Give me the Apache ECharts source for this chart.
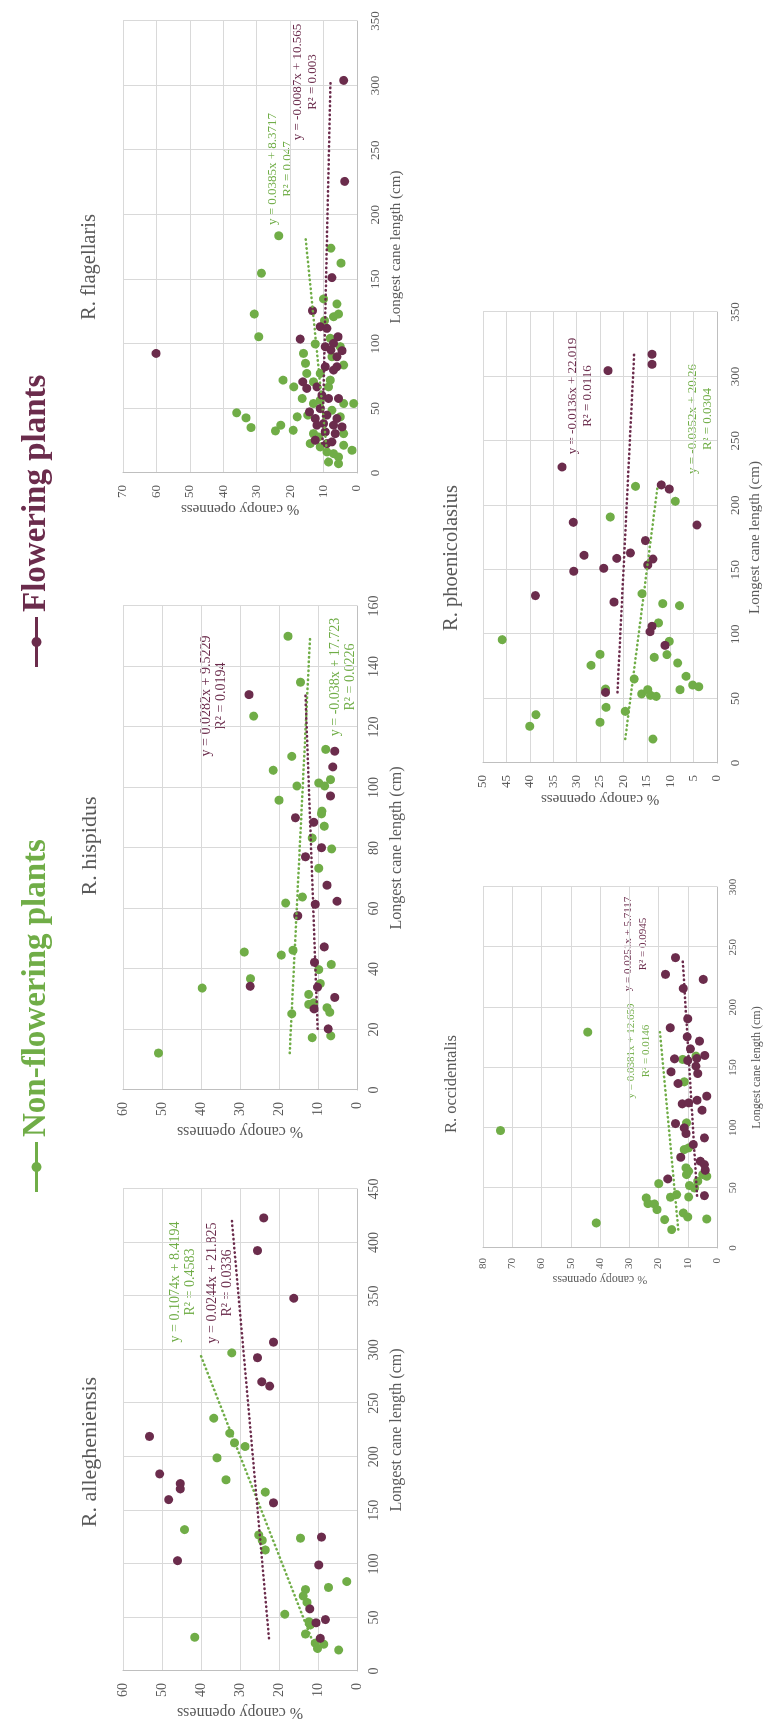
<!DOCTYPE html>
<html>
<head>
<meta charset="utf-8">
<script src="https://cdn.jsdelivr.net/npm/echarts@6/dist/echarts.min.js"></script>
<style>
  html, body { margin: 0; padding: 0; background: #fff; width: 768px; height: 1722px; overflow: hidden; }
  /* the figure is laid out landscape and turned a quarter turn counter-clockwise */
  #chart { position: absolute; left: 0; top: 0; width: 1722px; height: 768px;
           transform-origin: 0 0; transform: translate(0, 1722px) rotate(-90deg); }
</style>
</head>
<body>
<div id="chart"></div>
<script>
// [longest cane length (cm), % canopy openness]
const allegheniensisNon = [[31.5,41.6],[132,44.2],[236,36.7],[199,35.9],[178.5,33.6],[222,32.6],[213,31.4],[209.6,28.7],[297,32.1],[167,23.5],[127,25.2],[122,24.3],[113,23.5],[124,14.5],[53,18.5],[76,13.2],[70,13.8],[64,12.8],[46,12.3],[43,12.0],[34.5,13.2],[21,10.1],[25,8.5],[78,7.3],[83.5,2.6],[19.6,4.7],[26,10.7]];
const allegheniensisFl = [[219,53.2],[184,50.6],[160,48.3],[175,45.3],[170,45.3],[103,46.0],[157,21.4],[292.5,25.5],[270,24.4],[266,22.4],[307,21.4],[58,12.1],[45,10.5],[48,8.1],[30.5,9.4],[99,9.8],[125,9.1],[423,23.9],[392.5,25.5],[348,16.2]];

const hispidusNon = [[150,17.7],[134.8,14.5],[123.6,26.5],[112.6,8.0],[110.3,16.7],[105.7,21.5],[100.5,15.4],[101.5,9.8],[102.6,6.8],[100.5,8.3],[95.8,20.0],[92.2,9.0],[91.3,9.1],[87.2,8.4],[83.3,11.5],[79.7,6.5],[73.3,9.8],[63.8,14.0],[61.8,18.3],[46.2,16.4],[44.6,19.4],[45.6,28.9],[36.8,27.3],[33.7,39.7],[41.5,6.6],[39.8,9.8],[35.2,9.4],[31.6,12.4],[28.3,12.4],[28.8,11.1],[27.2,7.7],[25.7,7.0],[25.2,16.7],[17.3,11.5],[17.9,6.7],[12.2,50.9]];
const hispidusFl = [[130.7,27.7],[112,5.7],[106.8,6.2],[97.2,6.8],[90,15.8],[88.5,11.1],[80.1,9.1],[77.1,13.2],[67.7,7.7],[62.4,5.1],[61.4,10.7],[57.6,15.2],[47.3,8.4],[42.2,10.9],[34,10.1],[30.6,5.7],[26.8,11.0],[20.2,7.4],[34.3,27.4]];

const flagellarisNon = [[183.7,23.4],[154.7,28.6],[174.1,7.8],[162.5,4.8],[130.9,6.0],[123.1,5.5],[123.1,30.7],[105.5,29.4],[134.8,10.0],[118,9.7],[99.9,12.5],[92.6,16.0],[84.9,15.4],[77.1,15.0],[70.6,13.0],[71.9,22.1],[66.7,18.9],[57.7,16.4],[43.5,17.9],[33.1,19.1],[32.6,24.4],[37,22.8],[35.2,31.7],[42.7,33.2],[46.6,36.0],[44.8,14.7],[66.7,8.5],[90,7.5],[83.6,4.0],[53.8,4.0],[53.8,1.0],[43.5,5.0],[30.5,4.0],[21.5,4.0],[12.4,5.5],[7.2,5.5],[8.5,8.5],[20.2,11.0],[30.5,13.0],[22.8,14.0],[15,7.0],[16.3,9.0],[27.9,11.5],[48.6,7.5],[56.4,11.0],[71.9,8.0],[77.1,11.0],[53.8,13.0],[97.8,5.0],[104.3,8.0],[121,7.0],[17.6,1.5]];
const flagellarisFl = [[92.6,60.1],[304,4.0],[225.8,3.7],[151.3,7.5],[125.7,13.3],[103.7,17.0],[113.3,11.0],[112,9.0],[105.5,5.7],[100.4,7.0],[97.8,9.5],[95.2,7.8],[94.7,4.5],[90,6.0],[82.3,9.5],[82.3,6.0],[79.7,7.0],[70.6,16.2],[65.5,15.0],[66.7,12.0],[60.3,10.5],[57.7,8.5],[57.7,5.5],[47.3,14.2],[49.9,11.0],[44.8,9.0],[42.2,12.5],[42.2,6.0],[38.3,10.0],[37,12.0],[37,7.0],[35.7,4.5],[31.8,9.5],[30.5,6.5],[24.1,7.5],[25.4,12.5],[22.8,9.0]];

const occidentalisNon = [[97.6,74.0],[179.4,44.2],[20.8,41.3],[41.6,24.2],[36.9,23.6],[36.6,21.4],[31.9,20.5],[53.5,19.9],[23.6,17.9],[15.3,15.5],[42.2,15.9],[44.4,13.8],[29.1,11.5],[25.8,10.0],[24.1,3.5],[42.4,9.7],[51.9,9.4],[49.9,7.7],[55.5,6.6],[61,10.4],[66.6,10.6],[63.8,9.7],[61,4.9],[59.6,3.5],[81.8,11.2],[83.2,9.7],[104,10.4],[138.1,11.2],[156.7,11.7],[159.5,7.2]];
const occidentalisFl = [[241.3,14.2],[227.4,17.6],[223.2,4.7],[215.7,11.5],[190.5,10.0],[183,16.0],[175.5,10.2],[171.9,6.0],[165.5,9.1],[157.2,14.5],[155.8,10.0],[160,4.2],[157.5,6.9],[151.1,7.2],[146.4,15.7],[145,6.6],[136.7,13.3],[119.8,11.9],[120.6,9.7],[122.8,6.8],[126.2,3.5],[114.5,5.1],[103.4,14.2],[99.8,11.2],[95.1,10.6],[91.5,4.3],[86,8.1],[75.4,12.4],[72.1,5.7],[69.3,4.3],[57.4,16.8],[64.6,4.0],[43.5,4.3]];

const phoenicolasiusNon = [[95.7,45.9],[28.5,40.0],[37.5,38.7],[31.6,25.0],[75.8,26.9],[84.3,25.0],[57.4,23.8],[43.2,23.7],[190.9,22.8],[214.7,17.4],[203.1,8.9],[131.4,16.0],[123.7,11.6],[122.1,8.0],[108.7,12.5],[65.2,17.7],[40.1,19.6],[53.6,16.1],[56.9,14.8],[52.5,14.2],[51.7,13.0],[82,13.4],[94.4,10.2],[84.1,10.7],[77.6,8.4],[67.3,6.6],[56.9,7.9],[60.5,5.2],[59.2,3.9],[18.6,13.7]];
const phoenicolasiusFl = [[317.2,13.9],[309.4,13.9],[304.5,23.3],[229.7,33.1],[215.8,11.9],[212.6,10.2],[184.7,4.3],[186.8,30.7],[172.6,15.3],[161.2,28.4],[163,18.5],[158.8,21.4],[158.3,13.7],[153.7,14.8],[151.1,24.2],[148.8,30.6],[129.9,38.8],[124.9,22.0],[106.1,13.9],[101.9,14.3],[91.3,11.1],[54.8,23.8]];

// linear trendlines: [slope, intercept, R²]
const allegheniensisFitNon = [0.1074, 8.4194, 0.4583];
const allegheniensisFitFl = [0.0244, 21.825, 0.0336];
const hispidusFitNon = [-0.038, 17.723, 0.0226];
const hispidusFitFl = [0.0282, 9.5229, 0.0194];
const flagellarisFitNon = [0.0385, 8.3717, 0.047];
const flagellarisFitFl = [-0.0087, 10.565, 0.003];
const occidentalisFitNon = [0.0381, 12.659, 0.0146];
const occidentalisFitFl = [0.0251, 5.7117, 0.0945];
const phoenicolasiusFitNon = [-0.0352, 20.26, 0.0304];
const phoenicolasiusFitFl = [-0.0136, 22.019, 0.0116];

// axis ranges: [max cane length, step, max openness, step]
const allegheniensisAxes = [450, 50, 60, 10];
const hispidusAxes = [160, 20, 60, 10];
const flagellarisAxes = [350, 50, 70, 10];
const occidentalisAxes = [300, 50, 80, 10];
const phoenicolasiusAxes = [350, 50, 50, 5];

const seriesNames = ['Non-flowering plants', 'Flowering plants'];
const xTitle = 'Longest cane length (cm)';
const yTitle = '% canopy openness';

const GREEN = '#70AD47';
const PURPLE = '#6B2C4C';
const INK = '#595959';
const SERIF = '"Liberation Serif", "Times New Roman", serif';

const panels = [
  { title: 'R. allegheniensis', non: allegheniensisNon, fl: allegheniensisFl, fitNon: allegheniensisFitNon, fitFl: allegheniensisFitFl, axes: allegheniensisAxes,
    grid: { left: 51, top: 123, width: 482, height: 234 }, size: { title: 22, name: 16, tick: 14, eq: 14 },
    titleAt: [270, 90], eqNonAt: [440, 175], eqFlAt: [439, 212], gapX: 32, gapY: 33, marginX: 10, marginY: 12 },
  { title: 'R. hispidus', non: hispidusNon, fl: hispidusFl, fitNon: hispidusFitNon, fitFl: hispidusFitFl, axes: hispidusAxes,
    grid: { left: 632, top: 123, width: 484, height: 234 }, size: { title: 22, name: 16, tick: 14, eq: 14 },
    titleAt: [876, 90], eqNonAt: [1045, 335], eqFlAt: [1026, 206], gapX: 32, gapY: 33, marginX: 10, marginY: 12 },
  { title: 'R. flagellaris', non: flagellarisNon, fl: flagellarisFl, fitNon: flagellarisFitNon, fitFl: flagellarisFitFl, axes: flagellarisAxes,
    grid: { left: 1249, top: 123, width: 452, height: 234 }, size: { title: 20.5, name: 15, tick: 13, eq: 13 },
    titleAt: [1455, 90], eqNonAt: [1553, 273], eqFlAt: [1640, 298], gapX: 32, gapY: 28, marginX: 12, marginY: 12 },
  { title: 'R. occidentalis', non: occidentalisNon, fl: occidentalisFl, fitNon: occidentalisFitNon, fitFl: occidentalisFitFl, axes: occidentalisAxes,
    grid: { left: 474, top: 483, width: 361, height: 234 }, size: { title: 16.5, name: 12, tick: 11, eq: 11 },
    titleAt: [638, 452], eqNonAt: [671, 631], eqFlAt: [778, 628], gapX: 34, gapY: 24, marginX: 11, marginY: 10 },
  { title: 'R. phoenicolasius', non: phoenicolasiusNon, fl: phoenicolasiusFl, fitNon: phoenicolasiusFitNon, fitFl: phoenicolasiusFitFl, axes: phoenicolasiusAxes,
    grid: { left: 959, top: 483, width: 451, height: 234 }, size: { title: 20.5, name: 15, tick: 13, eq: 13 },
    titleAt: [1164, 452], eqNonAt: [1303, 693], eqFlAt: [1326, 573], gapX: 31, gapY: 28, marginX: 12, marginY: 12 }
];

function fitLine(points, fit) {
  const xs = points.map(p => p[0]);
  const lo = Math.min(...xs), hi = Math.max(...xs);
  return [[lo, fit[0] * lo + fit[1]], [hi, fit[0] * hi + fit[1]]];
}

function equationText(fit) {
  return ['y = ' + fit[0] + 'x + ' + fit[1], 'R\u00B2 = ' + fit[2]];
}

const grids = [], xAxes = [], yAxes = [], series = [], graphics = [];

panels.forEach((p, i) => {
  grids.push(p.grid);
  const axisCommon = {
    gridIndex: i, type: 'value', min: 0,
    axisTick: { show: false },
    axisLine: { show: true, lineStyle: { color: '#bfbfbf', width: 1 } },
    splitLine: { show: true, lineStyle: { color: '#d9d9d9', width: 1 } },
    nameLocation: 'middle',
    nameTextStyle: { color: INK, fontFamily: SERIF, fontSize: p.size.name }
  };
  xAxes.push(Object.assign({}, axisCommon, {
    max: p.axes[0], interval: p.axes[1], name: xTitle, nameGap: p.gapX,
    axisLabel: { color: INK, fontFamily: SERIF, fontSize: p.size.tick, margin: p.marginX }
  }));
  yAxes.push(Object.assign({}, axisCommon, {
    max: p.axes[2], interval: p.axes[3], name: yTitle, nameGap: p.gapY,
    axisLabel: { color: INK, fontFamily: SERIF, fontSize: p.size.tick, margin: p.marginY }
  }));

  const scatter = (name, data, color) => ({
    name, type: 'scatter', xAxisIndex: i, yAxisIndex: i, data,
    symbol: 'circle', symbolSize: 9, itemStyle: { color, opacity: 1 }, z: 2
  });
  series.push(scatter(seriesNames[0], p.non, GREEN));
  series.push(scatter(seriesNames[1], p.fl, PURPLE));

  const trend = (data, fit, color) => ({
    name: 'trend', type: 'line', xAxisIndex: i, yAxisIndex: i, data: fitLine(data, fit),
    symbol: 'none', silent: true, z: 3,
    lineStyle: { color, width: 2.5, type: [0.5, 4], cap: 'round' }
  });
  series.push(trend(p.non, p.fitNon, GREEN));
  series.push(trend(p.fl, p.fitFl, PURPLE));

  graphics.push({
    type: 'text', x: p.titleAt[0], y: p.titleAt[1],
    style: { text: p.title, fill: INK, font: p.size.title + 'px ' + SERIF, textAlign: 'center', textVerticalAlign: 'middle' }
  });
  const eq = (at, fit, color) => equationText(fit).forEach((line, k) => graphics.push({
    type: 'text', x: at[0], y: at[1] + k * 15,
    style: { text: line, fill: color, font: p.size.eq + 'px ' + SERIF, textAlign: 'center', textVerticalAlign: 'middle' }
  }));
  eq(p.eqNonAt, p.fitNon, GREEN);
  eq(p.eqFlAt, p.fitFl, PURPLE);
});

// legend key: a rule with a filled dot in its middle; the dot is a fine polygon
function legendKeyPath() {
  let d = 'M0,3.5H50V6.5H0Z ';
  const n = 24;
  for (let k = 0; k < n; k++) {
    const a = (k / n) * Math.PI * 2;
    d += (k ? 'L' : 'M') + (25 + 5 * Math.cos(a)).toFixed(2) + ',' + (5 + 5 * Math.sin(a)).toFixed(2);
  }
  return 'path://' + d + 'Z';
}
const legendIcon = legendKeyPath();
const legendBase = {
  orient: 'horizontal', top: 15, itemWidth: 50, itemHeight: 10, selectedMode: false,
  textStyle: { fontFamily: SERIF, fontWeight: 'bold', fontSize: 33 }
};

const chart = echarts.init(document.getElementById('chart'), null, { renderer: 'canvas' });
chart.setOption({
  animation: false,
  backgroundColor: '#ffffff',
  grid: grids,
  xAxis: xAxes,
  yAxis: yAxes,
  legend: [
    Object.assign({}, legendBase, { left: 525, data: [{ name: seriesNames[0], icon: legendIcon, itemStyle: { color: GREEN }, textStyle: { color: GREEN } }] }),
    Object.assign({}, legendBase, { left: 1050, data: [{ name: seriesNames[1], icon: legendIcon, itemStyle: { color: PURPLE }, textStyle: { color: PURPLE } }] })
  ],
  series,
  graphic: graphics
});
</script>
</body>
</html>
